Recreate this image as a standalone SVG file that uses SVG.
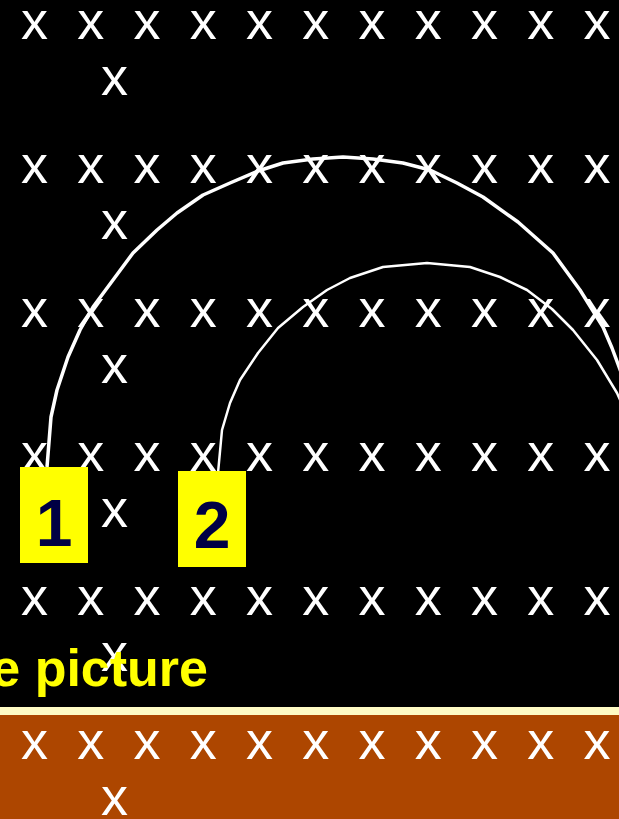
<svg xmlns="http://www.w3.org/2000/svg" width="619" height="819" viewBox="0 0 619 819">
<style>
.x{font-family:"Liberation Sans",Arial,sans-serif;font-size:54px;fill:#fff;text-anchor:middle}
.lbl{font-family:"Liberation Sans",Arial,sans-serif;font-weight:bold;font-size:66px;fill:#000044;text-anchor:middle}
.box{fill:#FFFF00}
.arc{fill:none;stroke:#fff;stroke-linejoin:round;stroke-linecap:butt}
</style>
<defs>
<g id="row">
<text class="x" x="34.5">x</text><text class="x" x="90.75">x</text><text class="x" x="147">x</text><text class="x" x="203.25">x</text><text class="x" x="259.5">x</text><text class="x" x="315.75">x</text><text class="x" x="372">x</text><text class="x" x="428.25">x</text><text class="x" x="484.5">x</text><text class="x" x="540.75">x</text><text class="x" x="597">x</text>
<text class="x" x="114.5" y="56">x</text>
</g>
</defs>
<rect width="619" height="819" fill="#000"/>
<rect x="0" y="707" width="619" height="8" fill="#FFFBC4"/>
<rect x="0" y="715" width="619" height="104" fill="#AD4600"/>
<g id="pattern">
<use href="#row" y="39"/>
<use href="#row" y="183"/>
<use href="#row" y="327"/>
<use href="#row" y="471"/>
<use href="#row" y="615"/>
<use href="#row" y="759"/>
</g>
<g id="connectors">
<polyline class="arc" stroke-width="3.5" points="47,467 51,417 57,390 68,357 80,330 93,307 113,280 133,253 157,230 177,213 203,195 230,183 258,171 283,163 313,159 343,157 373,159 403,163 430,170 457,183 483,197 518,222 553,253 580,290 603,327 612,348 621,372"/>
<polyline class="arc" stroke-width="2.5" points="218,473 222,430 230,403 240,380 258,353 278,328 303,307 327,290 350,278 383,267 427,263 470,267 500,277 527,290 552,309 573,330 597,360 617,393 621,402"/>
</g>
<g id="node1">
<rect class="box" x="20" y="467" width="68" height="96"/>
<text class="lbl" x="54" y="546">1</text>
</g>
<g id="node2">
<rect class="box" x="178" y="471" width="68" height="96"/>
<text class="lbl" x="212" y="548">2</text>
</g>
<text x="208" y="686" font-family="'Liberation Sans',Arial,sans-serif" font-weight="bold" font-size="52" fill="#FFFF00" text-anchor="end">e picture</text>
</svg>
